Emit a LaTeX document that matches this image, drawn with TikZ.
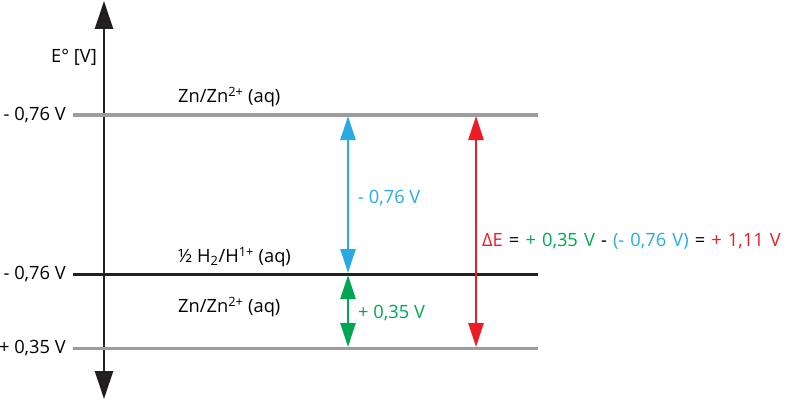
\documentclass[tikz,border=0pt]{standalone}
\usepackage{fontspec}
\setmainfont{Open Sans}
\usetikzlibrary{arrows.meta}
\definecolor{cblue}{HTML}{29ABE2}
\definecolor{cgreen}{HTML}{00A651}
\definecolor{cred}{HTML}{ED1C24}
\definecolor{cgray}{HTML}{9D9D9D}
\definecolor{cdark}{HTML}{231F20}
\begin{document}
\begin{tikzpicture}[x=1pt,y=-1pt,
  lbl/.style={font=\fontsize{18.3}{20}\selectfont, inner sep=0pt},
  level/.style={line width=3pt},
  darrow/.style={line width=2.6pt, {Triangle[length=24pt,width=15pt]}-{Triangle[length=24pt,width=15pt]}}]
\useasboundingbox (0,0) rectangle (786,401);
% axis
\coordinate (atop) at (104,1);
\coordinate (abot) at (104,399);
\draw[cdark, line width=2.6pt, {Triangle[length=28pt,width=18pt]}-{Triangle[length=28pt,width=18pt]}] (abot) -- (atop);
% levels
\coordinate (l1a) at (73,115); \coordinate (l1b) at (538,115);
\coordinate (l2a) at (73,274); \coordinate (l2b) at (538,274);
\coordinate (l3a) at (73,348); \coordinate (l3b) at (538,348);
\draw[level, cgray] (l1a) -- (l1b);
\draw[level, cdark] (l2a) -- (l2b);
\draw[level, cgray] (l3a) -- (l3b);
% arrows
\coordinate (b1) at (348,116); \coordinate (b2) at (348,273);
\coordinate (g1) at (348,275); \coordinate (g2) at (348,347);
\coordinate (r1) at (476,116); \coordinate (r2) at (476,347);
\draw[darrow, cblue] (b1) -- (b2);
\draw[darrow, cgreen] (g1) -- (g2);
\draw[darrow, cred] (r1) -- (r2);
% labels
\node[lbl, anchor=east] (ev) at (97,57) {E° [V]};
\node[lbl, anchor=east] (y1) at (66,115) {- 0,76 V};
\node[lbl, anchor=east] (y2) at (66,274) {- 0,76 V};
\node[lbl, anchor=east] (y3) at (66,348) {+ 0,35 V};
\node[lbl, anchor=west] (t1) at (178,97) {Zn/Zn\textsuperscript{2+} (aq)};
\node[lbl, anchor=west] (t2) at (178,257) {½ H\textsubscript{2}/H\textsuperscript{1+} (aq)};
\node[lbl, anchor=west] (t3) at (178,307) {Zn/Zn\textsuperscript{2+} (aq)};
\node[lbl, anchor=west, text=cblue] (bl) at (358,198) {- 0,76 V};
\node[lbl, anchor=west, text=cgreen] (gl) at (358,313) {+ 0,35 V};
\node[lbl, anchor=west] (dl) at (482,241) {\spaceskip=6.1pt\textcolor{cred}{ΔE} = \textcolor{cgreen}{+ 0,35 V} - \textcolor{cblue}{(- 0,76 V)} = \textcolor{cred}{+ 1,11 V}};
\end{tikzpicture}
\end{document}
